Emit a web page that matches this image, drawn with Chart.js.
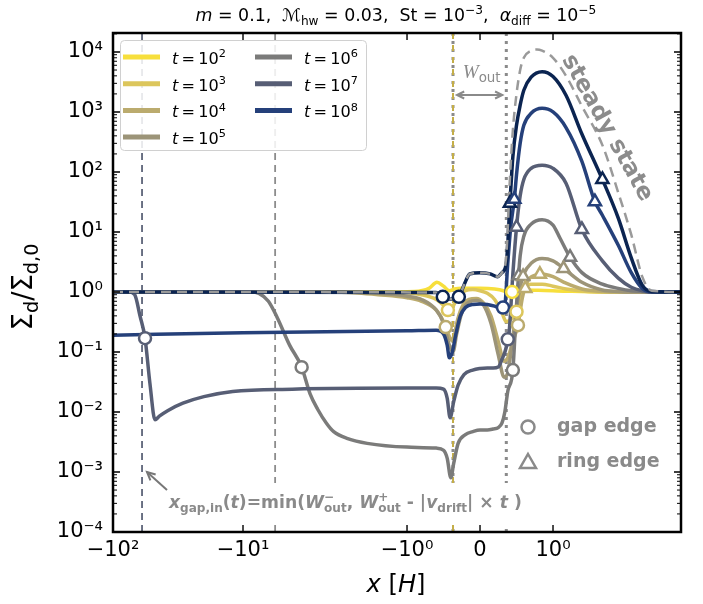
<!DOCTYPE html>
<html lang="en">
<head>
<meta charset="UTF-8">
<title>Dust surface density around a planetary gap</title>
<script src="https://cdn.jsdelivr.net/npm/chart.js@4"></script>
<style>
  body { margin: 0; background: #fff; }
  #wrap { width: 703px; height: 604px; position: relative; }
</style>
</head>
<body>
<div id="wrap"><canvas id="chart"></canvas></div>
<script>
// ---- axes ----
const X_TICKS = [-100, -10, -1, 0, 1];
const X_TICK_LABELS = ['−10²', '−10¹', '−10⁰', '0', '10⁰'];
const X_RANGE = [-100, 6.03];
const Y_TICKS = [1e-4, 1e-3, 1e-2, 1e-1, 1, 10, 100, 1e3, 1e4];
const Y_TICK_LABELS = ['10⁻⁴', '10⁻³', '10⁻²', '10⁻¹', '10⁰', '10¹', '10²', '10³', '10⁴'];
const Y_RANGE = [1e-4, 2.07e4];

// ---- series (x in H, y = Sigma_d / Sigma_d,0) ----
const TIME_EXP = ['2', '3', '4', '5', '6', '7', '8', '9'];
const COLORS = ['#f7df3c', '#dcc65c', '#bbab6e', '#9c9478', '#7b7b7a', '#575e75', '#25407a', '#0b2451'];

const x_t2 = [-100, -1.5, -0.9, -0.7, -0.59, -0.5, -0.42, -0.35, -0.25, 0, 0.2, 0.32, 0.4, 0.44, 0.5, 0.6, 0.8, 1.2, 2, 6.03];
const y_t2 = [1, 1, 1.02, 1.15, 1.45, 1.25, 1.05, 1.12, 1.15, 1.15, 1.12, 1.05, 0.95, 1.0, 1.06, 1.08, 1.07, 1.03, 1, 1];

const x_t3 = [-100, -2, -1, -0.8, -0.6, -0.5, -0.44, -0.38, -0.3, -0.2, -0.1, 0, 0.1, 0.2, 0.3, 0.36, 0.42, 0.5, 0.55, 0.6, 0.7, 0.85, 1.0, 1.2, 1.5, 2, 6.03];
const y_t3 = [1, 1, 0.97, 0.9, 0.75, 0.6, 0.5, 0.55, 0.85, 1.05, 1.1, 1.05, 0.95, 0.75, 0.45, 0.32, 0.35, 0.47, 0.85, 1.15, 1.35, 1.35, 1.25, 1.12, 1.04, 1.0, 1];

const x_t4 = [-100, -3, -2, -1.5, -1, -0.8, -0.6, -0.5, -0.47, -0.42, -0.37, -0.32, -0.25, -0.15, -0.05, 0.05, 0.15, 0.25, 0.33, 0.38, 0.45, 0.52, 0.58, 0.65, 0.75, 0.85, 1.0, 1.2, 1.5, 2, 2.5, 6.03];
const y_t4 = [1, 1, 0.96, 0.9, 0.8, 0.7, 0.5, 0.32, 0.26, 0.18, 0.15, 0.3, 0.55, 0.75, 0.78, 0.65, 0.4, 0.15, 0.07, 0.08, 0.15, 0.28, 0.8, 1.5, 1.9, 2.0, 1.8, 1.4, 1.12, 1.02, 1.0, 1];

const x_t5 = [-100, -2.5, -1.5, -1, -0.8, -0.6, -0.5, -0.42, -0.37, -0.32, -0.25, -0.15, -0.05, 0.05, 0.15, 0.25, 0.33, 0.38, 0.45, 0.5, 0.55, 0.6, 0.7, 0.85, 1.0, 1.2, 1.5, 2.0, 2.5, 3, 6.03];
const y_t5 = [1, 1, 0.95, 0.85, 0.75, 0.5, 0.3, 0.13, 0.1, 0.2, 0.45, 0.68, 0.72, 0.6, 0.3, 0.09, 0.038, 0.045, 0.18, 0.5, 1.2, 2.0, 3.0, 3.6, 3.3, 2.3, 1.45, 1.08, 1.02, 1.0, 1];

const x_t6 = [-100, -9, -8, -7, -6.2, -5.2, -4.4, -3.9, -3.5, -3.1, -2.8, -2.3, -1.75, -1, -0.6, -0.5, -0.45, -0.4, -0.36, -0.3, -0.2, -0.1, 0, 0.1, 0.18, 0.25, 0.3, 0.34, 0.38, 0.45, 0.5, 0.55, 0.6, 0.7, 0.85, 1.0, 1.1, 1.27, 1.5, 2.0, 2.5, 3.0, 3.5, 4, 6.03];
const y_t6 = [1, 1, 0.95, 0.7, 0.38, 0.13, 0.057, 0.02, 0.011, 0.0065, 0.0047, 0.0036, 0.003, 0.0026, 0.0025, 0.0023, 0.0017, 0.0008, 0.0014, 0.003, 0.0042, 0.0047, 0.005, 0.005, 0.0052, 0.0055, 0.0065, 0.01, 0.022, 0.05, 0.6, 4, 8.5, 13.5, 16, 13, 8, 3.8, 2.1, 1.35, 1.15, 1.05, 1.02, 1.0, 1];

const x_t7 = [-100, -75, -68, -62, -56.7, -52, -47.5, -44, -38, -29, -20, -12, -5, -1, -0.6, -0.5, -0.45, -0.41, -0.36, -0.3, -0.22, -0.1, 0, 0.1, 0.18, 0.25, 0.3, 0.36, 0.4, 0.45, 0.5, 0.55, 0.6, 0.7, 0.85, 1.0, 1.2, 1.5, 2.0, 2.5, 3.0, 3.5, 4, 6.03];
const y_t7 = [1, 1, 0.9, 0.4, 0.17, 0.03, 0.0074, 0.0085, 0.0105, 0.014, 0.018, 0.022, 0.024, 0.025, 0.025, 0.024, 0.017, 0.008, 0.015, 0.028, 0.042, 0.05, 0.053, 0.054, 0.054, 0.056, 0.075, 0.12, 0.22, 2, 12, 40, 75, 115, 130, 115, 65, 11, 3.3, 1.7, 1.2, 1.05, 1.0, 1];

const x_t8 = [-100, -10, -1, -0.6, -0.5, -0.45, -0.42, -0.38, -0.33, -0.27, -0.2, -0.1, 0, 0.1, 0.2, 0.3, 0.34, 0.38, 0.42, 0.47, 0.5, 0.55, 0.6, 0.7, 0.85, 1.0, 1.2, 1.5, 1.8, 2.0, 2.5, 3.0, 3.5, 4, 6.03];
const y_t8 = [0.19, 0.21, 0.225, 0.23, 0.2, 0.13, 0.08, 0.1, 0.2, 0.4, 0.55, 0.62, 0.63, 0.62, 0.58, 0.52, 0.6, 3, 12, 35, 90, 300, 600, 950, 1150, 1000, 550, 150, 32, 19, 6, 2.1, 1.15, 1.0, 1];

const x_t9 = [-100, -0.6, -0.51, -0.45, -0.4, -0.35, -0.29, -0.22, -0.14, 0, 0.14, 0.24, 0.3, 0.36, 0.41, 0.45, 0.5, 0.55, 0.6, 0.7, 0.85, 1.0, 1.2, 1.5, 2.0, 2.5, 3.0, 3.5, 4, 6.03];
const y_t9 = [1, 0.98, 0.83, 0.78, 0.76, 0.78, 0.83, 1.3, 2.0, 2.1, 2.0, 1.8, 2.1, 3, 30, 180, 600, 1300, 2300, 3800, 4700, 3900, 1900, 430, 75, 17, 3.7, 1.3, 1.02, 1];

const x_steady = [-100, -0.6, -0.51, -0.45, -0.4, -0.35, -0.29, -0.22, -0.14, 0, 0.14, 0.24, 0.3, 0.36, 0.41, 0.45, 0.5, 0.55, 0.6, 0.7, 0.78, 0.85, 1.0, 1.2, 1.5, 2.0, 2.5, 3.0, 3.5, 4, 6.03];
const y_steady = [1, 0.98, 0.83, 0.78, 0.76, 0.78, 0.83, 1.3, 2.0, 2.1, 2.0, 1.8, 2.1, 4, 80, 500, 2000, 5000, 8000, 10500, 11000, 10500, 8000, 4000, 1250, 280, 45, 9, 1.8, 1.05, 1];

const SERIES = [[x_t2, y_t2], [x_t3, y_t3], [x_t4, y_t4], [x_t5, y_t5], [x_t6, y_t6], [x_t7, y_t7], [x_t8, y_t8], [x_t9, y_t9]];

// marker positions: which series, and x along it
const GAP_EDGE_SERIES = [7, 7, 6, 5, 5, 4, 4, 2, 2, 1, 1, 0];
const GAP_EDGE_X = [-0.51, -0.29, 0.315, -56.7, 0.38, -4.39, 0.45, -0.47, 0.52, -0.44, 0.5, 0.44];
const RING_EDGE_SERIES = [7, 7, 6, 6, 5, 5, 4, 4, 3, 3, 2, 2];
const RING_EDGE_X = [0.41, 2.0, 0.47, 1.8, 0.5, 1.5, 0.53, 1.27, 0.59, 1.16, 0.62, 0.82];

// vertical reference lines
const GAP_IN_X = [-59.8, -6.37];
const W_OUT_X = [-0.37, 0.36];

// ---- symmetric log-like x axis ----
function toU(x) {
  const a = Math.abs(x), s = Math.sign(x);
  if (a <= 1) return x;
  const l = Math.log10(a);
  if (l <= 1) return s * (1 + 2.247 * l);
  return s * (3.247 + 1.781 * (l - 1));
}
function fromU(u) {
  const a = Math.abs(u), s = Math.sign(u);
  if (a <= 1) return u;
  if (a <= 3.247) return s * Math.pow(10, (a - 1) / 2.247);
  return s * Math.pow(10, 1 + (a - 3.247) / 1.781);
}

class SymLogX extends Chart.Scale {
  determineDataLimits() { this.min = this.options.min; this.max = this.options.max; }
  buildTicks() { return X_TICKS.map(v => ({ value: v })); }
  getLabelForValue(v) { return String(v); }
  configure() { super.configure(); this._u0 = toU(this.min); this._u1 = toU(this.max); }
  getPixelForValue(v) { return this.getPixelForDecimal((toU(v) - this._u0) / (this._u1 - this._u0)); }
  getValueForPixel(p) { return fromU(this._u0 + this.getDecimalForPixel(p) * (this._u1 - this._u0)); }
}
SymLogX.id = 'symlogx';
SymLogX.defaults = {};
Chart.register(SymLogX);

function valueAt(xs, ys, x) {
  for (let i = 1; i < xs.length; i++) {
    if (x <= xs[i]) {
      const u0 = toU(xs[i - 1]), u1 = toU(xs[i]);
      const t = (toU(x) - u0) / (u1 - u0);
      return Math.pow(10, Math.log10(ys[i - 1]) + t * (Math.log10(ys[i]) - Math.log10(ys[i - 1])));
    }
  }
  return ys[ys.length - 1];
}

// ---- rich text helper (sub / superscripts) ----
const FONT = 'DejaVu Sans';
function fontOf(p, size, bold) {
  const sz = p.s ? size * 0.7 : size;
  return (p.i ? 'italic ' : '') + (bold ? 'bold ' : '') + sz + 'px ' + (p.f || FONT);
}
function richWidth(ctx, parts, size, bold) {
  let w = 0;
  for (const p of parts) {
    ctx.font = fontOf(p, size, bold);
    if (p.s === 'both') w += Math.max(ctx.measureText(p.sup).width, ctx.measureText(p.sub).width);
    else w += ctx.measureText(p.t).width;
  }
  return w;
}
function drawRich(ctx, parts, x, y, size, opt) {
  opt = opt || {};
  const bold = !!opt.bold;
  let w = richWidth(ctx, parts, size, bold);
  if (opt.width) { size = size * opt.width / w; w = opt.width; }
  let cx = opt.align === 'center' ? x - w / 2 : x;
  ctx.fillStyle = opt.color || '#000';
  ctx.textAlign = 'left';
  ctx.textBaseline = 'alphabetic';
  for (const p of parts) {
    ctx.font = fontOf(p, size, bold);
    if (p.s === 'both') {
      ctx.fillText(p.sup, cx, y - size * 0.42);
      ctx.fillText(p.sub, cx, y + size * 0.22);
      cx += Math.max(ctx.measureText(p.sup).width, ctx.measureText(p.sub).width);
    } else {
      const dy = p.s === 'sub' ? size * 0.22 : p.s === 'sup' ? -size * 0.42 : 0;
      ctx.fillText(p.t, cx, y + dy);
      cx += ctx.measureText(p.t).width;
    }
  }
}
function arrowHead(ctx, x0, y0, x1, y1, len) {
  const a = Math.atan2(y1 - y0, x1 - x0);
  ctx.beginPath();
  ctx.moveTo(x1 - len * Math.cos(a - 0.45), y1 - len * Math.sin(a - 0.45));
  ctx.lineTo(x1, y1);
  ctx.lineTo(x1 - len * Math.cos(a + 0.45), y1 - len * Math.sin(a + 0.45));
  ctx.stroke();
}

// ---- decorations plugin ----
const decor = {
  id: 'decor',
  beforeDatasetsDraw(chart) {
    const ctx = chart.ctx, ca = chart.chartArea, xs = chart.scales.x;
    const vline = (x, color, lw, dash) => {
      const px = xs.getPixelForValue(x);
      ctx.save();
      ctx.strokeStyle = color; ctx.lineWidth = lw; ctx.setLineDash(dash);
      ctx.beginPath(); ctx.moveTo(px, ca.top); ctx.lineTo(px, ca.bottom); ctx.stroke();
      ctx.restore();
    };
    vline(GAP_IN_X[0], '#5d6478', 1.8, [7, 5]);
    vline(GAP_IN_X[1], '#8c8c8c', 1.8, [7, 5]);
    vline(W_OUT_X[0], '#8a8a8a', 3, [3, 5]);
    vline(W_OUT_X[0], '#c4ae48', 2, [6, 6]);
    vline(W_OUT_X[1], '#8a8a8a', 3, [3, 5]);
  },
  afterDatasetsDraw(chart) {
    const ctx = chart.ctx, ca = chart.chartArea, xs = chart.scales.x, ys = chart.scales.y;
    ctx.save();

    // inward ticks
    ctx.strokeStyle = '#000';
    for (let d = -4; d <= 4; d++) {
      const py = ys.getPixelForValue(Math.pow(10, d));
      ctx.lineWidth = 1.4;
      ctx.beginPath();
      ctx.moveTo(ca.left, py); ctx.lineTo(ca.left + 7, py);
      ctx.moveTo(ca.right, py); ctx.lineTo(ca.right - 7, py);
      ctx.stroke();
      ctx.lineWidth = 1;
      for (let k = 2; k <= 9; k++) {
        const v = k * Math.pow(10, d);
        if (v > Y_RANGE[1]) break;
        const pm = ys.getPixelForValue(v);
        ctx.beginPath();
        ctx.moveTo(ca.left, pm); ctx.lineTo(ca.left + 4, pm);
        ctx.moveTo(ca.right, pm); ctx.lineTo(ca.right - 4, pm);
        ctx.stroke();
      }
    }
    ctx.lineWidth = 1.4;
    for (const t of X_TICKS) {
      const px = xs.getPixelForValue(t);
      ctx.beginPath();
      ctx.moveTo(px, ca.bottom); ctx.lineTo(px, ca.bottom - 7);
      ctx.moveTo(px, ca.top); ctx.lineTo(px, ca.top + 7);
      ctx.stroke();
    }

    // annotation for x_gap,in
    ctx.fillStyle = '#fff';
    ctx.fillRect(160, 483, 376, 41);
    drawRich(ctx, [
      { t: 'x', i: 1 }, { t: 'gap,in', s: 'sub' }, { t: '(' }, { t: 't', i: 1 }, { t: ')=min(' },
      { t: 'W', i: 1 }, { s: 'both', sup: '−', sub: 'out' }, { t: ', ' },
      { t: 'W', i: 1 }, { s: 'both', sup: '+', sub: 'out' }, { t: ' - |' },
      { t: 'v', i: 1 }, { t: 'drift', s: 'sub' }, { t: '| × ' }, { t: 't', i: 1 }, { t: ' )' }
    ], 169, 508, 18, { bold: true, color: '#8a8a8a', width: 353 });
    ctx.strokeStyle = '#777'; ctx.lineWidth = 2;
    ctx.beginPath(); ctx.moveTo(167, 490); ctx.lineTo(147, 472); ctx.stroke();
    arrowHead(ctx, 167, 490, 147, 472, 9);

    // W_out arrow
    const pa = xs.getPixelForValue(W_OUT_X[0]) + 4, pb = xs.getPixelForValue(W_OUT_X[1]) - 4;
    ctx.strokeStyle = '#8a8a8a'; ctx.lineWidth = 2;
    ctx.beginPath(); ctx.moveTo(pa, 95); ctx.lineTo(pb, 95); ctx.stroke();
    arrowHead(ctx, pb, 95, pa, 95, 8);
    arrowHead(ctx, pa, 95, pb, 95, 8);
    drawRich(ctx, [{ t: 'W', i: 1, f: 'Liberation Serif' }, { t: 'out', s: 'sub' }],
      (pa + pb) / 2 + 2, 78, 18, { align: 'center', color: '#8a8a8a', width: 38 });

    // steady state label
    ctx.save();
    ctx.translate(607, 128);
    ctx.rotate(60.8 * Math.PI / 180);
    ctx.font = 'bold 23px ' + FONT;
    const sw = ctx.measureText('steady state').width;
    ctx.font = 'bold ' + (23 * 164 / sw).toFixed(1) + 'px ' + FONT;
    ctx.fillStyle = '#8c8c8c'; ctx.textAlign = 'center'; ctx.textBaseline = 'middle';
    ctx.fillText('steady state', 0, 0);
    ctx.restore();

    // marker legend
    ctx.strokeStyle = '#8a8a8a'; ctx.lineWidth = 2.5; ctx.setLineDash([]);
    ctx.beginPath(); ctx.arc(528, 427, 6.5, 0, Math.PI * 2); ctx.stroke();
    ctx.beginPath(); ctx.moveTo(528, 454); ctx.lineTo(536, 468); ctx.lineTo(520, 468); ctx.closePath(); ctx.stroke();
    ctx.fillStyle = '#8a8a8a'; ctx.font = 'bold 19px ' + FONT; ctx.textAlign = 'left'; ctx.textBaseline = 'middle';
    ctx.fillText('gap edge', 557, 427);
    ctx.fillText('ring edge', 557, 462);

    // legend box
    ctx.fillStyle = 'rgba(255,255,255,0.85)'; ctx.strokeStyle = '#d0d0d0'; ctx.lineWidth = 1;
    ctx.beginPath(); ctx.roundRect(120.5, 40.5, 246, 110, 4); ctx.fill(); ctx.stroke();
    for (let i = 0; i < 7; i++) {
      const col = i < 4 ? 0 : 1, row = i < 4 ? i : i - 4;
      const lx = col ? 255 : 123, ly = 57 + row * 26.7;
      ctx.strokeStyle = COLORS[i]; ctx.lineWidth = 5;
      ctx.beginPath(); ctx.moveTo(lx, ly); ctx.lineTo(lx + 37, ly); ctx.stroke();
      drawRich(ctx, [{ t: 't', i: 1 }, { t: '\u2009=\u200910' }, { t: TIME_EXP[i], s: 'sup' }], lx + 49, ly + 7, 18, { color: '#000', width: 54 });
    }

    // frame
    ctx.strokeStyle = '#000'; ctx.lineWidth = 2.5;
    ctx.strokeRect(ca.left, ca.top, ca.right - ca.left, ca.bottom - ca.top);

    // title and axis titles
    drawRich(ctx, [
      { t: 'm', i: 1 }, { t: ' = 0.1,  ' }, { t: 'ℳ', i: 1 }, { t: 'hw', s: 'sub' }, { t: ' = 0.03,  St = 10' },
      { t: '−3', s: 'sup' }, { t: ',  ' }, { t: 'α', i: 1 }, { t: 'diff', s: 'sub' }, { t: ' = 10' }, { t: '−5', s: 'sup' }
    ], 396, 21, 16, { align: 'center', color: '#000', width: 401 });
    drawRich(ctx, [{ t: 'x', i: 1 }, { t: ' [' }, { t: 'H', i: 1 }, { t: ']' }], 396, 592, 22, { align: 'center', width: 59 });
    ctx.save();
    ctx.translate(32, 287);
    ctx.rotate(-Math.PI / 2);
    drawRich(ctx, [{ t: 'Σ' }, { t: 'd', s: 'sub' }, { t: '/Σ' }, { t: 'd,0', s: 'sub' }], 0, 0, 21, { align: 'center', width: 87 });
    ctx.restore();

    ctx.restore();
  }
};

// ---- datasets ----
const datasets = SERIES.map((s, i) => ({
  label: 't = 10^' + TIME_EXP[i],
  data: s[0].map((x, j) => ({ x: x, y: s[1][j] })),
  borderColor: COLORS[i],
  borderWidth: 3.5,
  pointRadius: 0,
  cubicInterpolationMode: 'monotone',
  order: 10 - i
}));
datasets.push({
  label: 'steady state',
  data: x_steady.map((x, j) => ({ x: x, y: y_steady[j] })),
  borderColor: '#9a9a9a',
  borderWidth: 2.5,
  borderDash: [10, 6],
  pointRadius: 0,
  cubicInterpolationMode: 'monotone',
  order: 2
});
datasets.push({
  label: 'gap edge',
  data: GAP_EDGE_X.map((x, k) => ({ x: x, y: valueAt(SERIES[GAP_EDGE_SERIES[k]][0], SERIES[GAP_EDGE_SERIES[k]][1], x) })),
  showLine: false,
  pointStyle: 'circle',
  pointRadius: 6,
  pointBorderWidth: 2.5,
  pointBorderColor: GAP_EDGE_SERIES.map(s => COLORS[s]),
  pointBackgroundColor: '#fff',
  order: 1
});
datasets.push({
  label: 'ring edge',
  data: RING_EDGE_X.map((x, k) => ({ x: x, y: valueAt(SERIES[RING_EDGE_SERIES[k]][0], SERIES[RING_EDGE_SERIES[k]][1], x) })),
  showLine: false,
  pointStyle: 'triangle',
  pointRadius: 7,
  pointBorderWidth: 2.5,
  pointBorderColor: RING_EDGE_SERIES.map(s => COLORS[s]),
  pointBackgroundColor: '#fff',
  order: 0
});

Chart.defaults.font.family = FONT;

new Chart(document.getElementById('chart'), {
  type: 'line',
  data: { datasets: datasets },
  options: {
    responsive: true,
    maintainAspectRatio: false,
    animation: false,
    events: [],
    layout: { padding: { left: 0, top: 33, right: 22, bottom: 0 } },
    plugins: { legend: { display: false }, tooltip: { enabled: false } },
    scales: {
      x: {
        type: 'symlogx',
        min: X_RANGE[0],
        max: X_RANGE[1],
        grid: { display: false, drawTicks: false },
        border: { display: false },
        ticks: {
          autoSkip: false, maxRotation: 0, padding: 6, color: '#000',
          font: { size: 21 },
          callback: (v, i) => X_TICK_LABELS[i]
        },
        afterFit: s => { s.height = 72; }
      },
      y: {
        type: 'logarithmic',
        min: Y_RANGE[0],
        max: Y_RANGE[1],
        grid: { display: false, drawTicks: false },
        border: { display: false },
        afterBuildTicks: s => { s.ticks = Y_TICKS.map(v => ({ value: v })); },
        ticks: {
          autoSkip: false, padding: 10, color: '#000',
          font: { size: 21 },
          callback: (v, i) => Y_TICK_LABELS[i]
        },
        afterFit: s => { s.width = 113; }
      }
    }
  },
  plugins: [decor]
});
</script>
</body>
</html>
